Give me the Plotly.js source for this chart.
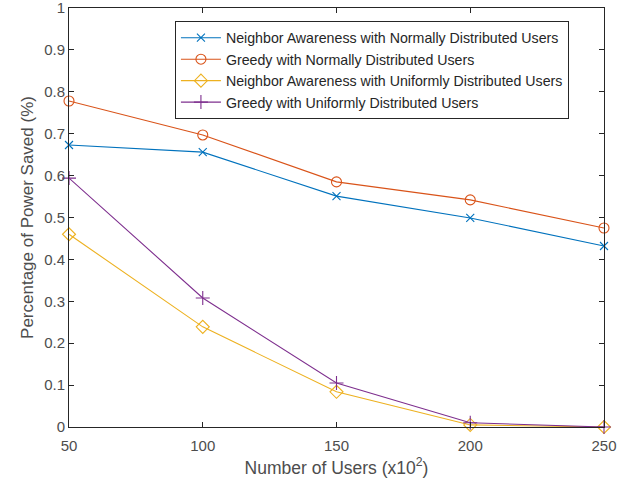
<!DOCTYPE html>
<html>
<head>
<meta charset="utf-8">
<script src="https://cdn.plot.ly/plotly-3.0.1.min.js"></script>
<style>html,body{margin:0;padding:0;background:#fff;}#chart{width:626px;height:489px;}</style>
</head>
<body>
<div id="chart"></div>
<script>
const users = [50, 100, 150, 200, 250];
const naNormal = [0.673, 0.656, 0.551, 0.499, 0.432];
const greedyNormal = [0.778, 0.697, 0.585, 0.542, 0.475];
const naUniform = [0.460, 0.239, 0.084, 0.005, 0.0];
const greedyUniform = [0.594, 0.308, 0.105, 0.010, 0.0];
const names = [
  'Neighbor Awareness with Normally Distributed Users',
  'Greedy with Normally Distributed Users',
  'Neighbor Awareness with Uniformly Distributed Users',
  'Greedy with Uniformly Distributed Users'
];
const xTicks = [50, 100, 150, 200, 250];
const yTicks = [0, 0.1, 0.2, 0.3, 0.4, 0.5, 0.6, 0.7, 0.8, 0.9, 1];
const yTickText = ['0', '0.1', '0.2', '0.3', '0.4', '0.5', '0.6', '0.7', '0.8', '0.9', '1'];

function tr(y, name, color, symbol, size) {
  return {
    x: users, y: y, name: name, type: 'scatter', mode: 'lines+markers',
    line: {color: color, width: 1.1},
    marker: {symbol: symbol, size: size, color: color, line: {color: color, width: 1.1}},
    cliponaxis: false
  };
}
const data = [
  tr(naNormal, names[0], '#0072BD', 'x-thin', 8),
  tr(greedyNormal, names[1], '#D95319', 'circle-open', 10),
  tr(naUniform, names[2], '#EDB120', 'diamond-open', 10),
  tr(greedyUniform, names[3], '#7E2F8E', 'cross-thin', 10)
];
const axisCommon = {
  showline: true, linecolor: '#262626', linewidth: 1, mirror: 'ticks',
  ticks: 'inside', ticklen: 5, tickcolor: '#262626', showgrid: false, zeroline: false,
  ticklabeloverflow: 'allow',
  tickfont: {family: 'Liberation Sans, Arial, sans-serif', size: 15, color: '#4d4d4d'}
};
const layout = {
  width: 626, height: 489,
  margin: {l: 69, r: 22, t: 8, b: 62},
  paper_bgcolor: '#fff', plot_bgcolor: '#fff',
  font: {family: 'Liberation Sans, Arial, sans-serif', color: '#262626'},
  xaxis: Object.assign({}, axisCommon, {
    range: [50, 250], tickvals: xTicks, ticktext: xTicks.map(String),
    ticklabelstandoff: 5,
    title: {text: 'Number of Users (x10<sup>2</sup>)', font: {size: 17.5, color: '#4d4d4d'}, standoff: 8}
  }),
  yaxis: Object.assign({}, axisCommon, {
    range: [0, 1], tickvals: yTicks, ticktext: yTickText,
    title: {text: 'Percentage of Power Saved (%)', font: {size: 17, color: '#4d4d4d'}, standoff: 6}
  }),
  showlegend: true,
  legend: {
    x: 0.198, y: 0.969, xanchor: 'left', yanchor: 'top',
    bordercolor: '#262626', borderwidth: 1, bgcolor: '#fff',
    font: {size: 14.2, color: '#262626'}, tracegroupgap: 0, itemwidth: 40
  }
};
Plotly.newPlot('chart', data, layout, {staticPlot: true});
</script>
</body>
</html>
